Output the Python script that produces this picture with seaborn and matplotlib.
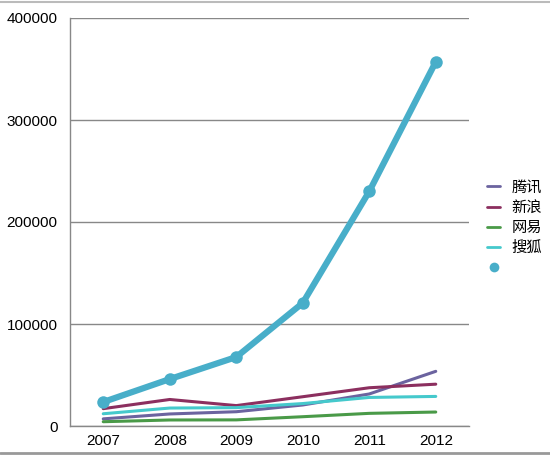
import matplotlib
matplotlib.use("Agg")
import matplotlib.pyplot as plt
from matplotlib.lines import Line2D
import seaborn as sns
import pandas as pd

sns.set_style("white")
plt.rcParams['font.family'] = ['Liberation Sans', 'Noto Sans CJK SC', 'DejaVu Sans']
plt.rcParams['text.color'] = 'black'
plt.rcParams['xtick.color'] = 'black'
plt.rcParams['ytick.color'] = 'black'

# data
years = [2007, 2008, 2009, 2010, 2011, 2012]
tencent = [7000, 11800, 14000, 20600, 31400, 53600]
sina = [17000, 26000, 20000, 28700, 37500, 41000]
netease = [4200, 5900, 6000, 9100, 12400, 13700]
sohu = [12000, 17600, 18000, 22000, 28000, 29000]
total = [23500, 46000, 67600, 120600, 230000, 357000]
series_names = ["腾讯", "新浪", "网易", "搜狐"]
colors = ["#6b639f", "#8c2f5f", "#4a9a48", "#45c9cc"]
total_color = "#48aec9"

df = pd.DataFrame({
    "year": years * 4,
    "value": tencent + sina + netease + sohu,
    "name": [n for n in series_names for _ in years],
})

fig = plt.figure(figsize=(5.5, 4.55), dpi=100)
ax = fig.add_axes([70 / 550, 29 / 455, 399 / 550, 408 / 455])

sns.lineplot(data=df, x="year", y="value", hue="name", hue_order=series_names,
             palette=colors, linewidth=2.2, ax=ax, legend=False)
sns.lineplot(x=years, y=total, color=total_color, linewidth=4.5, marker="o",
             markersize=9, markeredgewidth=0, ax=ax, zorder=5)

ax.set_xlim(2006.5, 2012.5)
ax.set_ylim(0, 400000)
ax.set_yticks([0, 100000, 200000, 300000, 400000])
ax.set_yticklabels(["0", "100000", "200000", "300000", "400000"])
ax.set_xticks(years)
ax.set_xticklabels([str(y) for y in years])
ax.set_xticks([y + 0.5 for y in [2006] + years], minor=True)
ax.tick_params(axis="x", which="major", length=0, labelsize=11, pad=6, labelcolor="black")
ax.tick_params(axis="x", which="minor", length=4, color="#888888", direction="out", width=1)
ax.tick_params(axis="y", length=5, color="#888888", direction="out", labelsize=11, pad=4,
               labelcolor="black")
ax.grid(axis="y", color="#888888", linewidth=1)
ax.set_axisbelow(True)
ax.set_xlabel("")
ax.set_ylabel("")
for side in ["top", "right"]:
    ax.spines[side].set_visible(False)
for side in ["left", "bottom"]:
    ax.spines[side].set_color("#888888")
    ax.spines[side].set_linewidth(1)

handles = [Line2D([], [], color=c, linewidth=2) for c in colors]
handles.append(Line2D([], [], color=total_color, linestyle="none", marker="o",
                      markersize=7, markeredgewidth=0))
ax.legend(handles, series_names + [""], loc="center left", bbox_to_anchor=(1.01, 0.485),
          frameon=False, fontsize=11, handlelength=0.9, handletextpad=0.7,
          labelspacing=0.4)

# thin grey rules at top and bottom of the picture
fig.add_artist(Line2D([0, 1], [1 - 1.5 / 455, 1 - 1.5 / 455], color="#bbbbbb", linewidth=1.5))
fig.add_artist(Line2D([0, 1], [2 / 455, 2 / 455], color="#999999", linewidth=2))

fig.savefig("out.png", dpi=100)
